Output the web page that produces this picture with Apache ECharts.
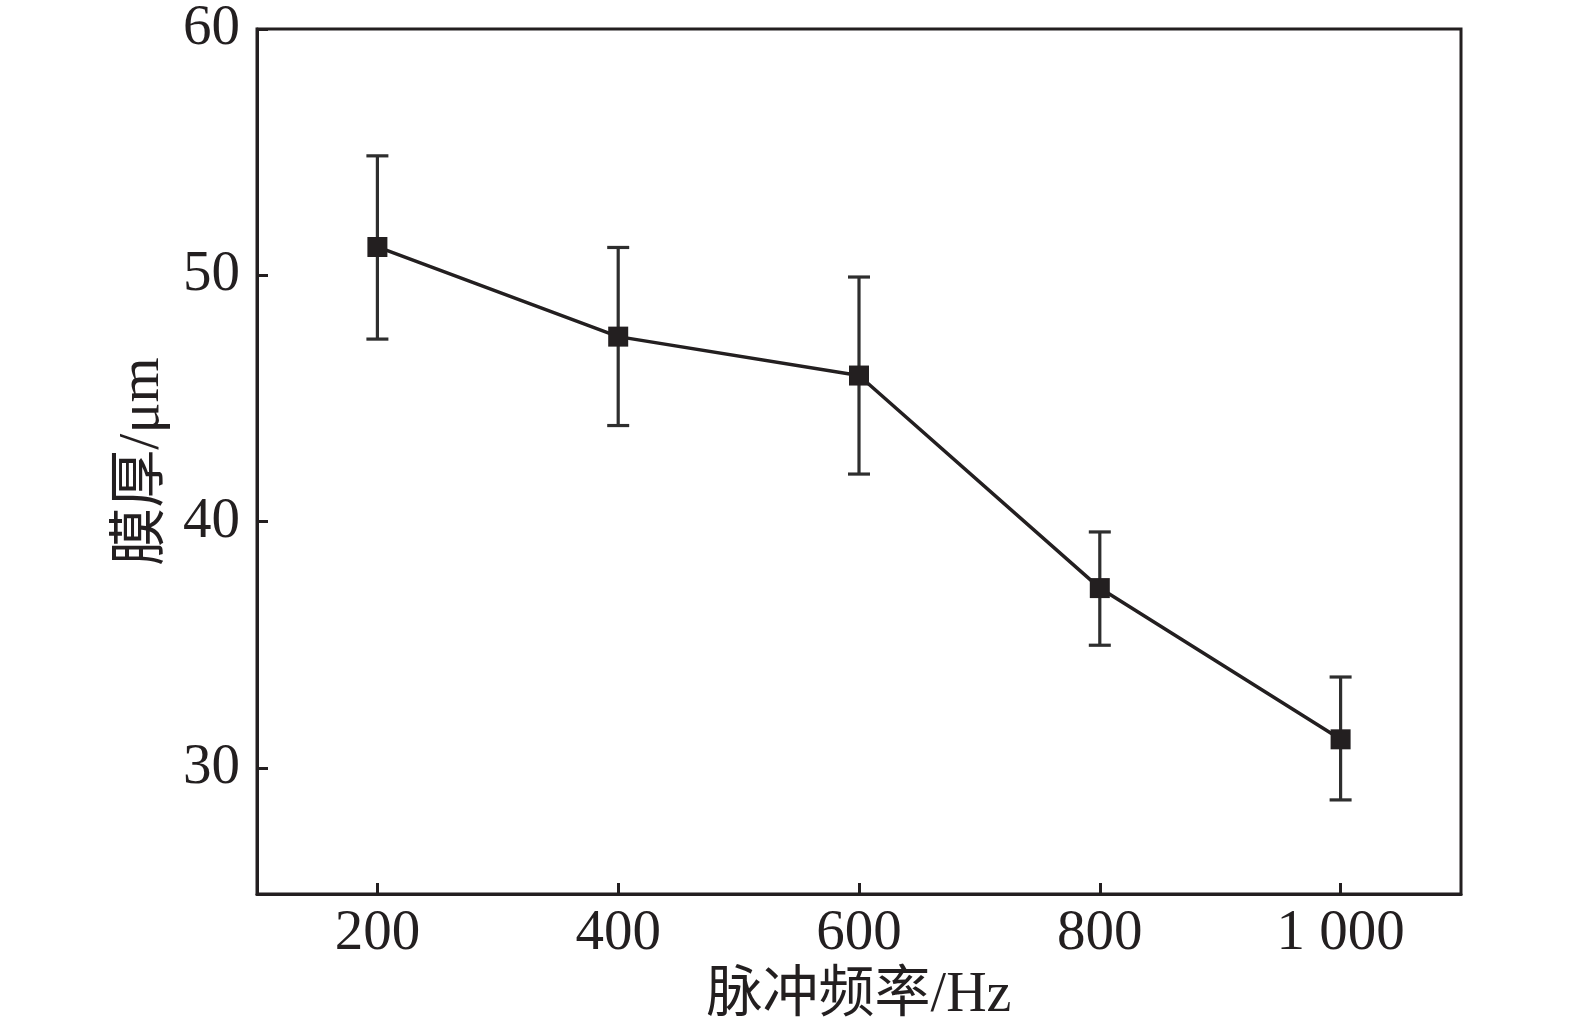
<!DOCTYPE html>
<html>
<head>
<meta charset="utf-8">
<script src="https://cdn.jsdelivr.net/npm/echarts@6/dist/echarts.min.js"></script>
<style>
html,body{margin:0;padding:0;background:#fff;}
#chart{width:1575px;height:1029px;}
</style>
</head>
<body>
<div id="chart"></div>
<script>
// Data
var frequency = [200, 400, 600, 800, 1000];
var thickness = [51.15, 47.51, 45.93, 37.3, 31.16];
var errUpper = [54.85, 51.13, 49.93, 39.58, 33.69];
var errLower = [47.41, 43.9, 41.93, 34.98, 28.7];
var xTickValues = [200, 400, 600, 800, 1000];
var xTickLabels = ['200', '400', '600', '800', '1 000'];
var yTickValues = [30, 40, 50, 60];
var yTickLabels = ['30', '40', '50', '60'];
var xName = '脉冲频率/Hz';
var yName = '膜厚/μm';

var ink = '#231f20';
var serif = '"Liberation Serif", "Noto Sans CJK SC", serif';

var lineData = frequency.map(function (f, i) { return [f, thickness[i]]; });
var errData = frequency.map(function (f, i) { return [f, errLower[i], errUpper[i]]; });

var chart = echarts.init(document.getElementById('chart'), null, {renderer: 'canvas'});
chart.setOption({
  backgroundColor: '#fff',
  animation: false,
  grid: {
    left: 257, right: 114, top: 29, bottom: 135,
    show: true, borderColor: ink, borderWidth: 3, backgroundColor: 'transparent'
  },
  xAxis: {
    type: 'value', min: 100, max: 1100,
    name: xName, nameLocation: 'middle', nameGap: 64,
    nameTextStyle: {fontFamily: serif, fontSize: 56, color: ink},
    axisLine: {show: true, onZero: false, lineStyle: {color: ink, width: 3}},
    axisTick: {show: true, inside: true, length: 11, lineStyle: {color: ink, width: 3}, customValues: xTickValues},
    axisLabel: {
      fontFamily: serif, fontSize: 57, color: ink, margin: 12,
      customValues: xTickValues,
      formatter: function (v) { var i = xTickValues.indexOf(v); return i >= 0 ? xTickLabels[i] : ''; }
    },
    splitLine: {show: false}
  },
  yAxis: {
    type: 'value', min: 24.88, max: 60,
    name: yName, nameLocation: 'middle', nameGap: 84, nameRotate: 90,
    nameTextStyle: {fontFamily: serif, fontSize: 58, color: ink},
    axisLine: {show: true, onZero: false, lineStyle: {color: ink, width: 3}},
    axisTick: {show: true, inside: true, length: 11, lineStyle: {color: ink, width: 3}, customValues: yTickValues},
    axisLabel: {
      fontFamily: serif, fontSize: 57, color: ink, margin: 17,
      customValues: yTickValues,
      formatter: function (v) { var i = yTickValues.indexOf(v); return i >= 0 ? yTickLabels[i] : ''; }
    },
    splitLine: {show: false}
  },
  series: [
    {
      type: 'custom',
      z: 1,
      data: errData,
      renderItem: function (params, api) {
        var x = api.value(0);
        var lo = api.coord([x, api.value(1)]);
        var hi = api.coord([x, api.value(2)]);
        var hw = 11;
        var st = {stroke: '#2e2e2e', lineWidth: 3.2, fill: null};
        return {
          type: 'group',
          children: [
            {type: 'line', shape: {x1: lo[0], y1: lo[1], x2: hi[0], y2: hi[1]}, style: st},
            {type: 'line', shape: {x1: hi[0] - hw, y1: hi[1], x2: hi[0] + hw, y2: hi[1]}, style: st},
            {type: 'line', shape: {x1: lo[0] - hw, y1: lo[1], x2: lo[0] + hw, y2: lo[1]}, style: st}
          ]
        };
      }
    },
    {
      type: 'line',
      z: 3,
      data: lineData,
      symbol: 'rect',
      symbolSize: 20,
      itemStyle: {color: ink},
      lineStyle: {color: ink, width: 3.5}
    }
  ]
});
</script>
</body>
</html>
